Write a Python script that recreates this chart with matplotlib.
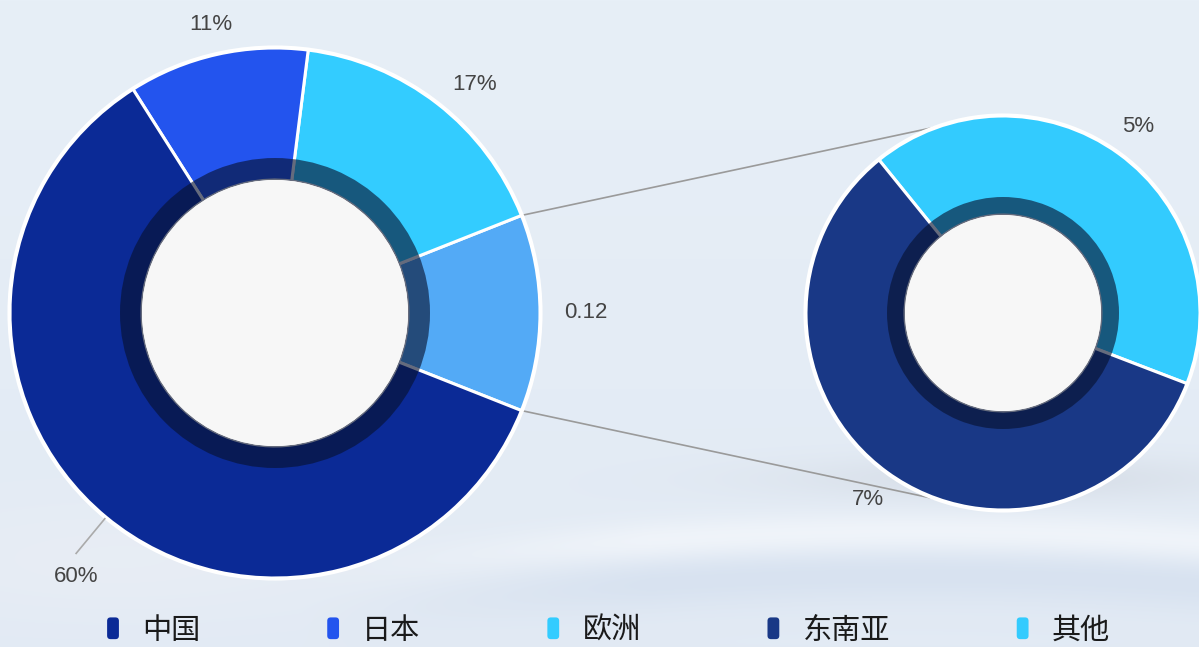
import numpy as np
import matplotlib
matplotlib.use('Agg')
from matplotlib import pyplot as plt
from matplotlib.patches import Circle, Wedge, FancyBboxPatch
from matplotlib.legend_handler import HandlerPatch

plt.rcParams['font.family'] = ['Noto Sans CJK SC', 'DejaVu Sans']

# main donut: the first slice is split out into the small donut
main_labels = ['其余', '欧洲', '日本', '中国']
main_values = [12, 17, 11, 60]
main_texts = ['0.12', '17%', '11%', '60%']
main_colors = ['#53aaf6', '#33ccff', '#2354ee', '#0b2a96']

sub_labels = ['其他', '东南亚']
sub_values = [5, 7]
sub_texts = ['5%', '7%']
sub_colors = ['#33cbfe', '#193886']

legend_labels = ['中国', '日本', '欧洲', '东南亚', '其他']
legend_colors = ['#0b2a96', '#2354ee', '#33ccff', '#193886', '#33cbfe']

W, H = 1199, 647
fig = plt.figure(figsize=(W / 100, H / 100), dpi=100)

# background: light blue gradient with a soft white swoosh near the bottom
bg = fig.add_axes([0, 0, 1, 1], zorder=0)
bg.axis('off')
X, Y = np.meshgrid(np.arange(W), np.arange(H))
top = np.array([231, 239, 247]) / 255
low = np.array([226, 234, 244]) / 255
t = (Y / H)[..., None]
img = top + (low - top) * t
crest = 545 - 0.04 * (X - 500) + 0.00012 * (X - 750) ** 2
fade = np.clip((X - 300) / 350, 0, 1)
white = np.exp(-((Y - crest) / 20) ** 2) * 0.6 * fade
shade = np.exp(-((Y - crest - 42) / 28) ** 2) * 0.35 * fade
left_glow = np.exp(-((Y - 560) / 60) ** 2) * np.exp(-((X - 120) / 260) ** 2) * 0.45
img = img * (1 - shade[..., None]) + np.array([196, 211, 233]) / 255 * shade[..., None]
img = img * (1 - white[..., None]) + np.array([248, 250, 253]) / 255 * white[..., None]
img = img * (1 - left_glow[..., None]) + np.array([238, 240, 244]) / 255 * left_glow[..., None]
dshadow = np.exp(-(((X - 1010) / 230) ** 2 + ((Y - 478) / 22) ** 2)) * 0.3
img = img * (1 - dshadow[..., None]) + np.array([190, 195, 205]) / 255 * dshadow[..., None]
bg.imshow(img, aspect='auto', extent=[0, W, H, 0])
bg.set_xlim(0, W)
bg.set_ylim(H, 0)

ax = fig.add_axes([0, 0, 1, 1], zorder=1)
ax.set_xlim(0, W)
ax.set_ylim(0, H)
ax.set_aspect('equal')
ax.axis('off')
ax.patch.set_alpha(0)

c1 = (275, H - 313)
r1, hole1, ring1 = 265, 133, 155
c2 = (1003, H - 313)
r2, hole2, ring2 = 197, 98, 116


def donut(values, colors, center, r, hole, ring, start):
    wedges, _ = ax.pie(values, colors=colors, startangle=start, counterclock=True,
                       radius=r, center=center, frame=True,
                       wedgeprops=dict(width=r - hole, edgecolor='white', linewidth=2.2))
    for w in wedges:
        w.set_zorder(3)
    ax.add_patch(Circle(center, r + 1.5, facecolor='none', edgecolor='white', lw=1.5, zorder=3))
    ax.add_patch(Wedge(center, ring, 0, 360, width=ring - hole, facecolor='#07112e', alpha=0.62,
                       edgecolor='none', zorder=4))
    ax.add_patch(Circle(center, hole, facecolor='#f7f7f7', edgecolor='none', zorder=5))
    return wedges


start1 = -main_values[0] / sum(main_values) * 360 / 2
w1 = donut(main_values, main_colors, c1, r1, hole1, ring1, start1)
w2 = donut(sub_values, sub_colors, c2, r2, hole2, ring2, -21)
ax.set_xlim(0, W)
ax.set_ylim(0, H)

# connecting lines from the split slice to the small donut
for a1, a2 in [(w1[0].theta2, 108), (w1[0].theta1, -108)]:
    p1 = (c1[0] + r1 * np.cos(np.radians(a1)), c1[1] + r1 * np.sin(np.radians(a1)))
    p2 = (c2[0] + r2 * np.cos(np.radians(a2)), c2[1] + r2 * np.sin(np.radians(a2)))
    ax.plot([p1[0], p2[0]], [p1[1], p2[1]], color='#9a9a9a', lw=1.2, zorder=2)

label_font = dict(fontsize=16, color='#444444', family=['Liberation Sans', 'DejaVu Sans'], zorder=6)


def put_labels(wedges, texts, center, dist, side_dist=None):
    for w, t in zip(wedges, texts):
        a = np.radians((w.theta1 + w.theta2) / 2)
        ca = np.cos(a)
        ha, d = 'center', dist
        if side_dist is not None and abs(ca) >= 0.3:
            ha, d = ('left' if ca > 0 else 'right'), side_dist
        x = center[0] + d * np.cos(a)
        y = center[1] + d * np.sin(a)
        ax.text(x, y, t, ha=ha, va='center', **label_font)


put_labels(w1[:3], main_texts[:3], c1, 296, side_dist=289)
put_labels(w2, sub_texts, c2, 230)

# big slice label with its leader line
a = np.radians((w1[3].theta1 + w1[3].theta2) / 2)
ex, ey = c1[0] + 312 * np.cos(a), c1[1] + 312 * np.sin(a)
ax.plot([c1[0] + (r1 + 2) * np.cos(a), ex], [c1[1] + (r1 + 2) * np.sin(a), ey],
        color='#aaaaaa', lw=1.2, zorder=6)
ax.text(ex, ey - 23, main_texts[3], ha='center', va='center', **label_font)


class RoundBox(HandlerPatch):
    def create_artists(self, legend, orig, xd, yd, width, height, fontsize, trans):
        p = FancyBboxPatch((xd + 1, yd + 1), width - 2, height + 3,
                           boxstyle='round,pad=0,rounding_size=2.5',
                           facecolor=orig.get_facecolor(), edgecolor='none', transform=trans)
        return [p]


handles = [FancyBboxPatch((0, 0), 1, 1, facecolor=c) for c in legend_colors]
fig.legend(handles, legend_labels, loc='center', bbox_to_anchor=(0.507, 1 - 631 / H), ncol=5,
           frameon=False, fontsize=21, handlelength=0.5, handleheight=0.55, handletextpad=0.75,
           columnspacing=4.3, handler_map={FancyBboxPatch: RoundBox()},
           labelcolor='#1a1a1a')

fig.savefig('out.png', dpi=100)
